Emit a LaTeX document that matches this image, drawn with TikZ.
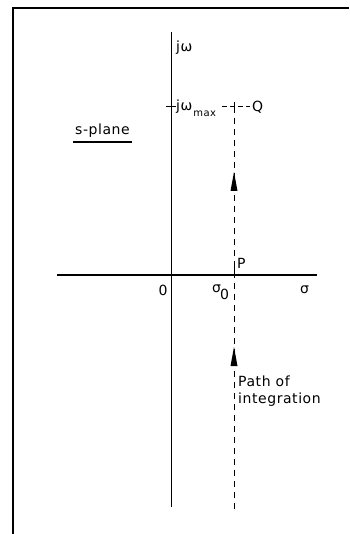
\documentclass[tikz,border=0pt]{standalone}
\usepackage{fontspec}
\setmainfont{DejaVu Sans}[LetterSpace=4]
\begin{document}
\begin{tikzpicture}[x=1pt,y=-1pt,
  lbl/.style={inner sep=0pt, font=\fontsize{14}{16}\selectfont},
  axisln/.style={line width=1pt},
  dashln/.style={line width=1pt, dash pattern=on 6pt off 5pt},
  tipfill/.style={fill=black}]
\useasboundingbox (0,0) rectangle (349,534);
% frame
\draw[line width=1.6pt] (13,534) -- (13,8) -- (349,8);
% coordinates
\coordinate (vtop) at (171,32);
\coordinate (vbot) at (171,507);
\coordinate (hl) at (57,275);
\coordinate (hr) at (317,275);
\coordinate (Ptop) at (234,107);
\coordinate (P) at (234,275);
\coordinate (Pbot) at (234,510);
% axes
\draw[axisln] (vtop) -- (vbot);
\draw[line width=1.8pt] (hl) -- (hr);
% path of integration
\draw[dashln] (Ptop) -- (Pbot);
\draw[line width=1pt] (234,267) -- (P);
\fill[tipfill] (234,172) -- (230.5,191) -- (237.5,191) -- cycle;
\fill[tipfill] (234,347) -- (230.5,366) -- (237.5,366) -- cycle;
% jw max line
\draw[line width=1pt] (166,107) -- (176,107);
\draw[line width=1pt] (234,102) -- (234,112);
\draw[line width=1pt, dash pattern=on 5pt off 3pt] (222,107) -- (250,107);
% labels
\node[lbl, anchor=west] (jw) at (176,48) {jω};
\node[lbl, anchor=west] (jwmax) at (176,108) {jω\hspace{1pt}\raisebox{-6pt}{\fontsize{10}{11}\selectfont max}};
\node[lbl, anchor=west] (Q) at (252,107) {Q};
\node[lbl, anchor=west] (splane) at (75,131) {s-plane};
\draw[line width=1.2pt] (73,142) -- (132,142);
\node[lbl] (zero) at (163,290) {0};
\node[lbl, anchor=west] (sig0) at (212,292) {σ\hspace{-1pt}\raisebox{-7pt}{0}};
\node[lbl, anchor=west] (Plbl) at (237,263) {P};
\node[lbl, anchor=west] (sig) at (300,290) {σ};
\node[lbl, anchor=north west, align=left, font=\fontsize{14}{17}\selectfont] (path) at (238,376) {Path of\\integration};
\end{tikzpicture}
\end{document}
